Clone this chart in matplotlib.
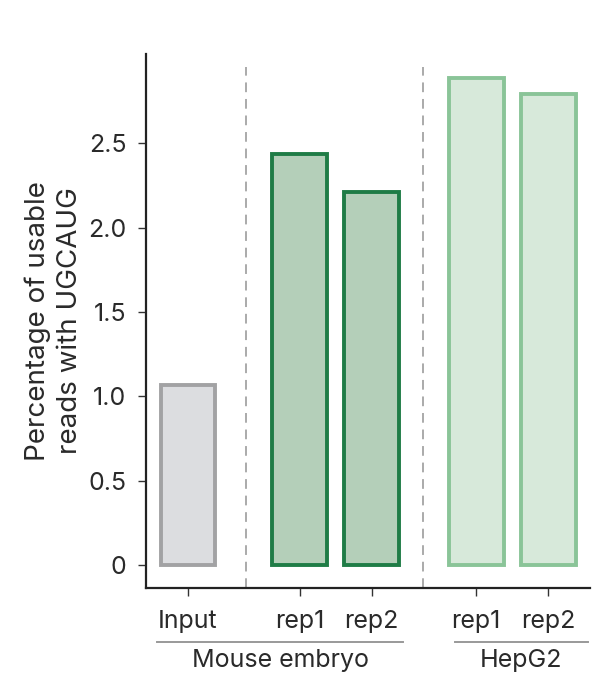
import matplotlib.pyplot as plt
from matplotlib.lines import Line2D

plt.rcParams['font.family'] = ['Inter', 'DejaVu Sans']

# data
bar_labels = ["Input", "rep1", "rep2", "rep1", "rep2"]
values = [1.07, 2.44, 2.21, 2.89, 2.79]
groups = ["Mouse embryo", "HepG2"]
yticks = [0, 0.5, 1.0, 1.5, 2.0, 2.5]
ytick_labels = ["0", "0.5", "1.0", "1.5", "2.0", "2.5"]

# layout
xpos = [0, 1.55, 2.55, 4.0, 5.0]
fills = ["#dcdde0", "#b4cfb9", "#b4cfb9", "#d7e9da", "#d7e9da"]
edges = ["#a2a2a4", "#1f7c46", "#1f7c46", "#8ac498", "#8ac498"]

fig = plt.figure(figsize=(6.05, 6.79), dpi=100)
ax = fig.add_axes([0.2413, 0.134, 0.7339, 0.7865])

ax.bar(xpos, values, width=0.76, color=fills, edgecolor=edges, linewidth=2.8)

for xd in [0.8, 3.26]:
    ax.plot([xd, xd], [-0.136, 2.95], color="#aaaaaa", lw=1.4,
            ls=(0, (5, 3.5)), clip_on=False, zorder=0)

ax.set_xlim(-0.583, 5.58)
ax.set_ylim(-0.136, 3.03)
ax.set_yticks(yticks)
ax.set_yticklabels(ytick_labels)
ax.set_xticks(xpos)
ax.set_xticklabels(bar_labels)
ax.tick_params(axis="both", labelsize=18, length=6, width=1, colors="#333333",
               labelcolor="#2a2a2a")
ax.tick_params(axis="y", pad=8)
ax.tick_params(axis="x", pad=10)
for s in ["top", "right"]:
    ax.spines[s].set_visible(False)
for s in ["left", "bottom"]:
    ax.spines[s].set_linewidth(1.6)
    ax.spines[s].set_color("#222222")

ax.set_ylabel("Percentage of usable\nreads with UGCAUG", fontsize=20,
              color="#2a2a2a", labelpad=4, linespacing=1.3)

# group underlines and labels
spans = [(157, 403), (455, 588)]
W, H = 605, 679
for g, (x0, x1) in zip(groups, spans):
    fig.add_artist(Line2D([x0 / W, x1 / W], [1 - 642 / H, 1 - 642 / H],
                          color="#999999", lw=1.4))
    fig.text((x0 + x1) / 2 / W, 1 - 661 / H, g, ha="center", va="center",
             fontsize=18, color="#2a2a2a")

fig.savefig("out.png", dpi=100)
